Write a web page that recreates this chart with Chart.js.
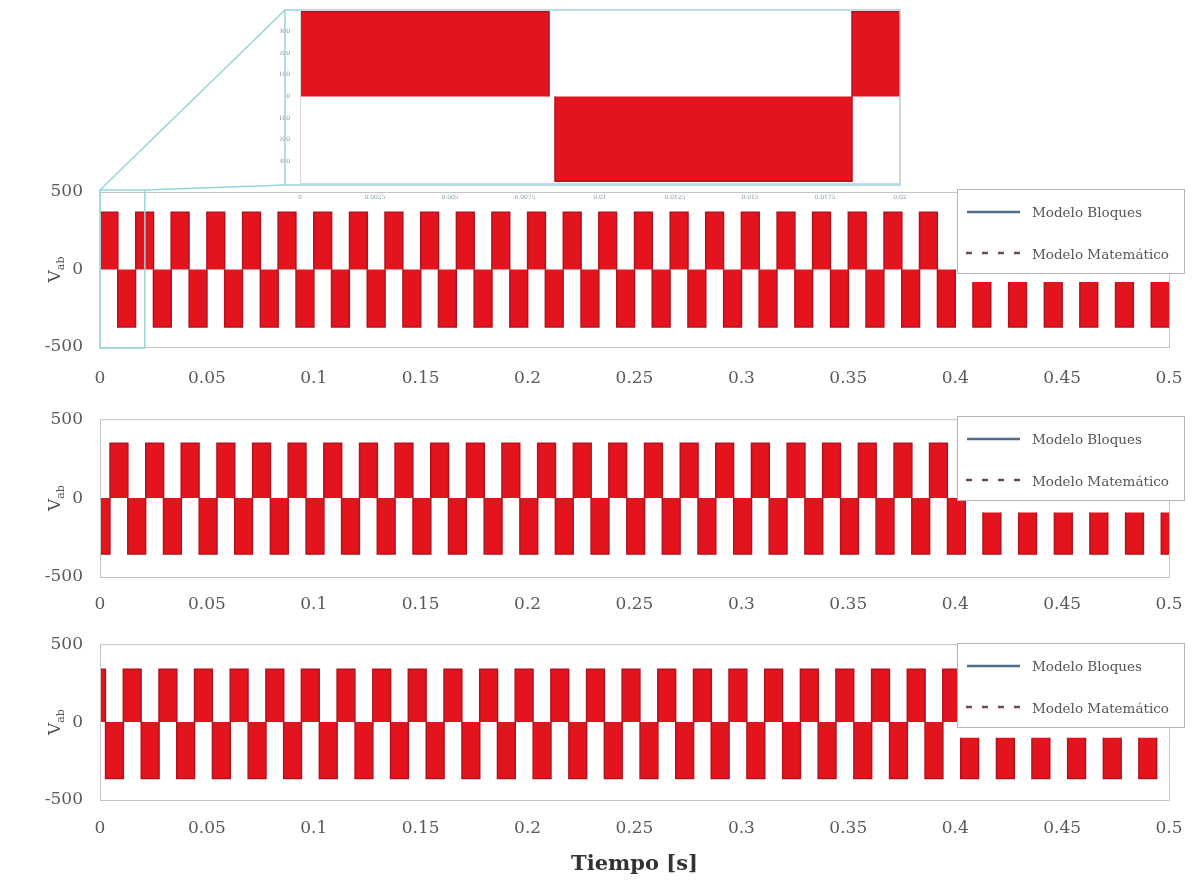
<!DOCTYPE html>
<html lang="es">
<head>
  <meta charset="UTF-8">
  <title>Tensión de línea - Modelo Bloques vs Modelo Matemático</title>
  <style>
    body { margin: 0; background: #fff; }
    #lienzo { position: relative; width: 1200px; height: 886px; overflow: hidden; }
    canvas { position: absolute; left: 0; }
  </style>
</head>
<body>
<div id="lienzo">
  <canvas id="g1" width="1200" height="400" style="top:0"></canvas>
  <canvas id="g2" width="1200" height="225" style="top:400px"></canvas>
  <canvas id="g3" width="1200" height="261" style="top:625px"></canvas>
  <canvas id="zoom" width="630" height="200" style="top:0;left:280px"></canvas>
</div>

<script src="https://cdn.jsdelivr.net/npm/chart.js"></script>
<script>
// ---- datos ----
const ticksX = [0, 0.05, 0.1, 0.15, 0.2, 0.25, 0.3, 0.35, 0.4, 0.45, 0.5];
const etiquetasX = ['0', '0.05', '0.1', '0.15', '0.2', '0.25', '0.3', '0.35', '0.4', '0.45', '0.5'];
const ticksY = [-500, 0, 500];
const etiquetasY = ['-500', '0', '500'];
const leyenda = ['Modelo Bloques', 'Modelo Matemático'];
const semiperiodo = 0.00833; // ancho de cada bloque (s)

// inicio de los bloques positivos, negativos y despues de t = 0.4 s
const pos1 = [0, 0.0167, 0.0333, 0.05, 0.0667, 0.0833, 0.1, 0.1167, 0.1333, 0.15, 0.1667, 0.1833,
              0.2, 0.2167, 0.2333, 0.25, 0.2667, 0.2833, 0.3, 0.3167, 0.3333, 0.35, 0.3667, 0.3833];
const neg1 = [0.0083, 0.025, 0.0417, 0.0583, 0.075, 0.0917, 0.1083, 0.125, 0.1417, 0.1583, 0.175, 0.1917,
              0.2083, 0.225, 0.2417, 0.2583, 0.275, 0.2917, 0.3083, 0.325, 0.3417, 0.3583, 0.375, 0.3917];
const falla1 = [0.4083, 0.425, 0.4417, 0.4583, 0.475, 0.4917];
const amp1 = [370, -371];
const nivFalla1 = [-81, -371];

const pos2 = [0.0047, 0.0214, 0.038, 0.0547, 0.0714, 0.088, 0.1047, 0.1214, 0.138, 0.1547, 0.1714, 0.188,
              0.2047, 0.2214, 0.238, 0.2547, 0.2714, 0.288, 0.3047, 0.3214, 0.338, 0.3547, 0.3714, 0.388];
const neg2 = [-0.0037, 0.013, 0.0297, 0.0464, 0.063, 0.0797, 0.0964, 0.113, 0.1297, 0.1464, 0.163, 0.1797,
              0.1964, 0.213, 0.2297, 0.2464, 0.263, 0.2797, 0.2964, 0.313, 0.3297, 0.3464, 0.363, 0.3797, 0.3964];
const falla2 = [0.413, 0.4297, 0.4464, 0.463, 0.4797, 0.4964];
const amp2 = [347, -354];
const nivFalla2 = [-92, -354];

const pos3 = [-0.0058, 0.0109, 0.0276, 0.0442, 0.0609, 0.0776, 0.0942, 0.1109, 0.1276, 0.1442, 0.1609, 0.1776,
              0.1942, 0.2109, 0.2276, 0.2442, 0.2609, 0.2776, 0.2942, 0.3109, 0.3276, 0.3442, 0.3609, 0.3776, 0.3942];
const neg3 = [0.0026, 0.0193, 0.0359, 0.0526, 0.0693, 0.0859, 0.1026, 0.1193, 0.1359, 0.1526, 0.1693, 0.1859,
              0.2026, 0.2193, 0.2359, 0.2526, 0.2693, 0.2859, 0.3026, 0.3193, 0.3359, 0.3526, 0.3693, 0.3859];
const falla3 = [0.4026, 0.4193, 0.4359, 0.4526, 0.4693, 0.4859];
const amp3 = [340, -362];
const nivFalla3 = [-100, -362];

// detalle ampliado (recuadro superior)
const ticksXZoom = [0, 0.0025, 0.005, 0.0075, 0.01, 0.0125, 0.015, 0.0175, 0.02];
const etiquetasXZoom = ['0', '0.0025', '0.005', '0.0075', '0.01', '0.0125', '0.015', '0.0175', '0.02'];
const ticksYZoom = [-300, -200, -100, 0, 100, 200, 300];
const zoomPosIni = [0, 0.0184];
const zoomPosAncho = [0.0083, 0.0083];
const zoomNegIni = [0.0085];
const zoomNegAncho = [0.0099];
const ampZoom = [392, -392];

// ---- dibujo ----
const fuente = "'DejaVu Serif', 'Liberation Serif', serif";
Chart.defaults.font.family = fuente;
Chart.defaults.color = '#555';

const rojo = '#e3141d';
const rojoBorde = '#b2121e';
const cian = '#96d3dd';

// rectangulos de un tren de pulsos, separados con null
function bloques(inicios, anchos, nivel, base) {
  const pts = [];
  inicios.forEach((s, i) => {
    const w = Array.isArray(anchos) ? anchos[i] : anchos;
    pts.push({x: s, y: base}, {x: s, y: nivel}, {x: s + w, y: nivel}, {x: s + w, y: base}, {x: s + w, y: null});
  });
  return pts;
}

function serie(data, fill) {
  return {
    data: data, fill: fill, backgroundColor: rojo, borderColor: rojoBorde, borderWidth: 1.5,
    pointRadius: 0, tension: 0, spanGaps: false
  };
}

const marco = {
  id: 'marco',
  afterDraw(chart, args, o) {
    const {ctx, chartArea: a} = chart;
    ctx.save();
    ctx.strokeStyle = '#c4c4c4';
    ctx.lineWidth = 1;
    ctx.strokeRect(a.left + 0.5, a.top + 0.5, a.right - a.left, a.bottom - a.top);

    if (o.yLabel) {
      const y0 = chart.scales.y.getPixelForValue(0);
      ctx.translate(60, y0);
      ctx.rotate(-Math.PI / 2);
      ctx.fillStyle = '#555';
      ctx.textBaseline = 'alphabetic';
      ctx.font = '17px ' + fuente;
      const wV = ctx.measureText('V').width;
      ctx.font = '11px ' + fuente;
      const wS = ctx.measureText('ab').width;
      const x0 = -(wV + wS) / 2;
      ctx.font = '17px ' + fuente;
      ctx.fillText('V', x0, 0);
      ctx.font = '11px ' + fuente;
      ctx.fillText('ab', x0 + wV, 4);
      ctx.setTransform(1, 0, 0, 1, 0, 0);
    }

    if (o.leyendaTop !== undefined) {
      const t = o.leyendaTop, l = 957, w = 227, h = 84;
      ctx.fillStyle = '#fff';
      ctx.fillRect(l, t, w, h);
      ctx.strokeStyle = '#b4b4b4';
      ctx.strokeRect(l + 0.5, t + 0.5, w, h);
      ctx.lineWidth = 2.5;
      ctx.strokeStyle = '#4e6c8c';
      ctx.beginPath(); ctx.moveTo(967, t + 23); ctx.lineTo(1020, t + 23); ctx.stroke();
      ctx.strokeStyle = '#6e4c4c';
      ctx.setLineDash([6, 10]);
      ctx.beginPath(); ctx.moveTo(966, t + 64); ctx.lineTo(1022, t + 64); ctx.stroke();
      ctx.setLineDash([]);
      ctx.fillStyle = '#555';
      ctx.font = '13.5px ' + fuente;
      ctx.textBaseline = 'middle';
      ctx.fillText(leyenda[0], 1032, t + 24);
      ctx.fillText(leyenda[1], 1032, t + 66);
    }

    if (o.zoomRect) {
      // recuadro de la zona ampliada y lineas hacia el detalle
      const x0 = a.left, x1 = chart.scales.x.getPixelForValue(0.021);
      ctx.strokeStyle = cian;
      ctx.lineWidth = 1.5;
      ctx.strokeRect(x0, a.top - 2, x1 - x0, a.bottom - a.top + 3);
      ctx.beginPath();
      ctx.moveTo(x0, a.top - 2); ctx.lineTo(285, 10);
      ctx.moveTo(x1, a.top - 2); ctx.lineTo(285, 185);
      ctx.stroke();
    }
    ctx.restore();
  }
};

function ejes(padTicks, alturaX, titulo) {
  return {
    x: {
      type: 'linear', min: 0, max: 0.5,
      grid: {display: false}, border: {display: false},
      afterBuildTicks: s => { s.ticks = ticksX.map(v => ({value: v})); },
      afterFit: s => { s.height = alturaX; },
      ticks: {
        padding: padTicks, maxRotation: 0, autoSkip: false,
        font: {size: 17}, color: '#5a5a5a',
        callback: (v, i) => etiquetasX[i]
      },
      title: titulo ? {display: true, text: titulo, color: '#333',
                       font: {size: 21, weight: 'bold'}, padding: {top: 0, bottom: 9}} : {display: false}
    },
    y: {
      type: 'linear', min: -500, max: 500,
      grid: {display: false}, border: {display: false},
      afterBuildTicks: s => { s.ticks = ticksY.map(v => ({value: v})); },
      afterFit: s => { s.width = 100; },
      ticks: {padding: 9, font: {size: 17}, color: '#5a5a5a', callback: (v, i) => etiquetasY[i]}
    }
  };
}

function subgrafico(id, pos, neg, falla, amp, nivFalla, padTop, alturaX, padTicks, marcoOpc, titulo) {
  new Chart(document.getElementById(id), {
    type: 'line',
    data: {
      datasets: [
        serie(bloques(pos, semiperiodo, amp[0], 0), 'origin'),
        serie(bloques(neg, semiperiodo, amp[1], 0), 'origin'),
        serie(bloques(falla, semiperiodo, nivFalla[1], nivFalla[0]), {value: nivFalla[0]})
      ]
    },
    options: {
      responsive: false, animation: false, events: [],
      layout: {padding: {top: padTop, right: 31, left: 0, bottom: 0}},
      plugins: {legend: {display: false}, tooltip: {enabled: false}, marco: marcoOpc},
      scales: ejes(padTicks, alturaX, titulo)
    },
    plugins: [marco]
  });
}

subgrafico('g1', pos1, neg1, falla1, amp1, nivFalla1, 192, 53, 13, {yLabel: true, leyendaTop: 189, zoomRect: true});
subgrafico('g2', pos2, neg2, falla2, amp2, nivFalla2, 13, 48, 9, {yLabel: true, leyendaTop: 16});
subgrafico('g3', pos3, neg3, falla3, amp3, nivFalla3, 12, 86, 10, {yLabel: true, leyendaTop: 18}, 'Tiempo [s]');

// recuadro con el detalle ampliado
const fondoZoom = {
  id: 'fondoZoom',
  beforeDraw(chart) {
    const {ctx} = chart;
    ctx.save();
    ctx.fillStyle = '#fff';
    ctx.fillRect(5, 10, 618, 175);
    ctx.restore();
  },
  afterDraw(chart) {
    const {ctx, chartArea: a} = chart;
    ctx.save();
    ctx.strokeStyle = cian;
    ctx.lineWidth = 1.5;
    ctx.strokeRect(5, 10, a.right - 5, 175);
    ctx.strokeStyle = '#cfd8dc';
    ctx.lineWidth = 1;
    ctx.strokeRect(a.left + 0.5, a.top + 0.5, a.right - a.left, a.bottom - a.top);
    ctx.restore();
  }
};

new Chart(document.getElementById('zoom'), {
  type: 'line',
  data: {
    datasets: [
      serie(bloques(zoomPosIni, zoomPosAncho, ampZoom[0], 0), 'origin'),
      serie(bloques(zoomNegIni, zoomNegAncho, ampZoom[1], 0), 'origin')
    ]
  },
  options: {
    responsive: false, animation: false, events: [],
    layout: {padding: {top: 10, right: 10, left: 0, bottom: 0}},
    plugins: {legend: {display: false}, tooltip: {enabled: false}},
    scales: {
      x: {
        type: 'linear', min: 0, max: 0.02,
        grid: {display: false}, border: {display: false},
        afterBuildTicks: s => { s.ticks = ticksXZoom.map(v => ({value: v})); },
        afterFit: s => { s.height = 17; },
        ticks: {padding: 3, maxRotation: 0, autoSkip: false, font: {size: 6}, color: '#7a9aa8',
                callback: (v, i) => etiquetasXZoom[i]}
      },
      y: {
        type: 'linear', min: -400, max: 400,
        grid: {display: false}, border: {display: false},
        afterBuildTicks: s => { s.ticks = ticksYZoom.map(v => ({value: v})); },
        afterFit: s => { s.width = 20; },
        ticks: {padding: 2, font: {size: 6}, color: '#888'}
      }
    }
  },
  plugins: [fondoZoom]
});
</script>
</body>
</html>
